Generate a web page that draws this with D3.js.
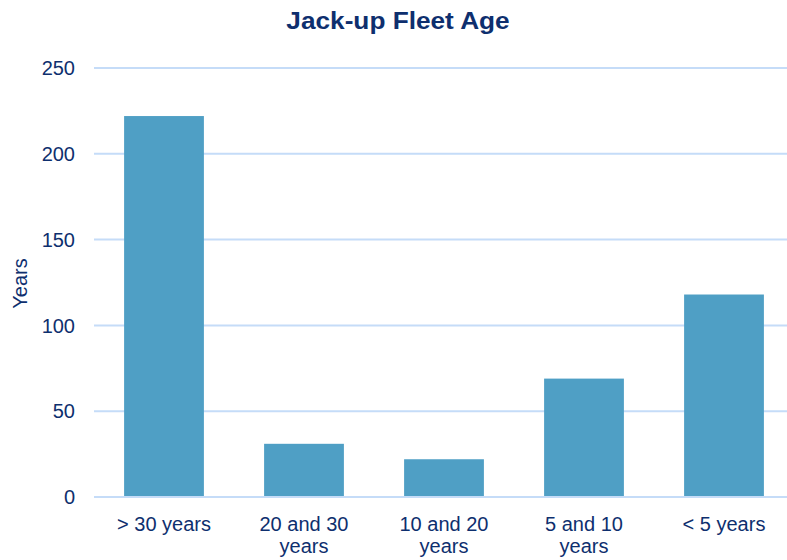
<!DOCTYPE html>
<html>
<head>
<meta charset="utf-8">
<script src="https://cdn.jsdelivr.net/npm/d3@7"></script>
<style>
  html, body { margin: 0; padding: 0; background: #fff; }
  svg text { font-family: "Liberation Sans", Arial, Helvetica, sans-serif; fill: #0e2f6e; }
</style>
</head>
<body>
<svg id="chart" width="787" height="560"></svg>
<script>
// Fleet age buckets and rig counts
const categories = [["> 30 years"], ["20 and 30", "years"], ["10 and 20", "years"], ["5 and 10", "years"], ["< 5 years"]];
const values = [222, 31, 22, 69, 118];
const yTicks = [0, 50, 100, 150, 200, 250];
const title = "Jack-up Fleet Age";
const yLabel = "Years";

const svg = d3.select("#chart");
const plotLeft = 94, plotRight = 794, plotTop = 68, plotBottom = 497;

const x = d3.scaleBand()
  .domain(d3.range(values.length))
  .range([plotLeft, plotRight])
  .paddingInner(0.43)
  .paddingOuter(0.215);

const y = d3.scaleLinear().domain([0, 250]).range([plotBottom, plotTop]);

// horizontal gridlines
svg.append("g").selectAll("line")
  .data(yTicks)
  .join("line")
  .attr("x1", plotLeft).attr("x2", 787)
  .attr("y1", d => y(d)).attr("y2", d => y(d))
  .attr("stroke", "#c5dcf8").attr("stroke-width", 2);

// y tick labels
svg.append("g").selectAll("text")
  .data(yTicks)
  .join("text")
  .attr("x", 75).attr("y", d => y(d))
  .attr("dy", "0.36em")
  .attr("text-anchor", "end")
  .attr("font-size", 20)
  .text(d => d);

// bars
svg.append("g").selectAll("rect")
  .data(values)
  .join("rect")
  .attr("x", (d, i) => x(i))
  .attr("width", x.bandwidth())
  .attr("y", d => y(d))
  .attr("height", d => y(0) - y(d))
  .attr("fill", "#4f9fc5");

// redraw baseline over bars
svg.append("line")
  .attr("x1", plotLeft).attr("x2", 787)
  .attr("y1", y(0)).attr("y2", y(0))
  .attr("stroke", "#c5dcf8").attr("stroke-width", 2);

// category labels
const xl = svg.append("g").selectAll("text")
  .data(categories)
  .join("text")
  .attr("text-anchor", "middle")
  .attr("font-size", 20)
  .attr("y", 531);
xl.each(function(lines, i) {
  const t = d3.select(this);
  lines.forEach((s, k) => {
    t.append("tspan")
      .attr("x", x(i) + x.bandwidth() / 2)
      .attr("dy", k === 0 ? 0 : 22)
      .text(s);
  });
});

// axis title
svg.append("text")
  .attr("transform", `translate(27, ${(plotTop + plotBottom) / 2 + 1}) rotate(-90)`)
  .attr("text-anchor", "middle")
  .attr("font-size", 20)
  .text(yLabel);

// chart title, widened slightly
svg.append("text")
  .attr("transform", "translate(398, 29) scale(1.14, 1)")
  .attr("text-anchor", "middle")
  .attr("font-size", 23)
  .attr("font-weight", "bold")
  .text(title);
</script>
</body>
</html>
